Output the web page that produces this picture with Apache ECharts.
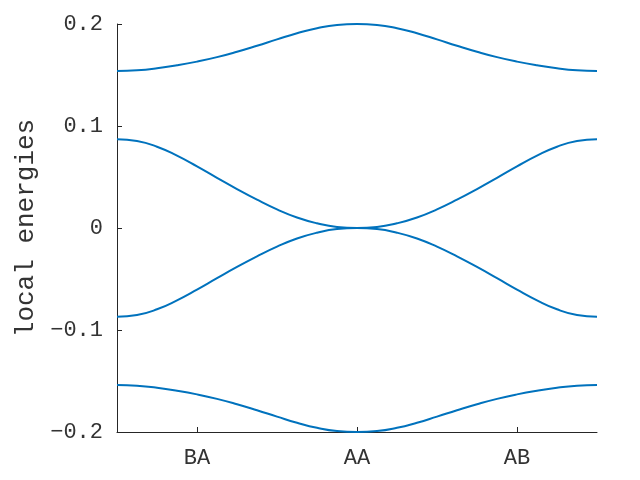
<!DOCTYPE html>
<html>
<head>
<meta charset="utf-8">
<script src="https://cdn.jsdelivr.net/npm/echarts@6/dist/echarts.min.js"></script>
<style>html,body{margin:0;padding:0;background:#fff}#c{width:640px;height:480px}</style>
</head>
<body>
<div id="c"></div>
<script>
var xPositions = [0,0.125,0.25,0.375,0.5,0.625,0.75,0.875,1,1.125,1.25,1.375,1.5,1.625,1.75,1.875,2,2.125,2.25,2.375,2.5,2.625,2.75,2.875,3];
var band1 = [0.1538,0.1546,0.1566,0.1595,0.1631,0.1675,0.1728,0.1787,0.1849,0.1909,0.1959,0.1991,0.2,0.1991,0.1959,0.1909,0.1849,0.1787,0.1728,0.1675,0.1631,0.1595,0.1566,0.1546,0.1538];
var band2 = [0.0870,0.0853,0.0797,0.0709,0.0604,0.0492,0.0382,0.0278,0.0183,0.0103,0.0046,0.0010,0,0.0010,0.0046,0.0103,0.0183,0.0278,0.0382,0.0492,0.0604,0.0709,0.0797,0.0853,0.0870];
var band3 = [-0.0870,-0.0853,-0.0797,-0.0709,-0.0604,-0.0492,-0.0382,-0.0278,-0.0183,-0.0103,-0.0046,-0.0010,0,-0.0010,-0.0046,-0.0103,-0.0183,-0.0278,-0.0382,-0.0492,-0.0604,-0.0709,-0.0797,-0.0853,-0.0870];
var band4 = [-0.1538,-0.1546,-0.1566,-0.1595,-0.1631,-0.1675,-0.1728,-0.1787,-0.1849,-0.1909,-0.1959,-0.1991,-0.2,-0.1991,-0.1959,-0.1909,-0.1849,-0.1787,-0.1728,-0.1675,-0.1631,-0.1595,-0.1566,-0.1546,-0.1538];
var xTickValues = [0.5,1.5,2.5];
var xTickLabels = ['BA','AA','AB'];
var yLabel = 'local energies';

function pairs(ys){ return xPositions.map(function(x,i){ return [x, ys[i]]; }); }
var font = 'Liberation Mono';
var txt = '#262626';
function mkSeries(ys){
  return {type:'line', data:pairs(ys), showSymbol:false, smooth:true, lineStyle:{color:'#0072BD', width:2}, itemStyle:{color:'#0072BD'}, animation:false};
}
var chart = echarts.init(document.getElementById('c'), null, {renderer:'canvas'});
chart.setOption({
  animation:false,
  grid:{left:117, right:43, top:24, bottom:48, containLabel:false},
  xAxis:{
    type:'value', min:0, max:3,
    axisLine:{show:true, onZero:false, lineStyle:{color:txt, width:1}},
    splitLine:{show:false},
    axisTick:{show:true, inside:true, length:5, lineStyle:{color:txt}, customValues:xTickValues},
    axisLabel:{customValues:xTickValues, margin:15, color:'#333', fontFamily:font, fontSize:22,
      formatter:function(v){ var i = xTickValues.indexOf(v); return i>=0 ? xTickLabels[i] : ''; }}
  },
  yAxis:{
    type:'value', min:-0.2, max:0.2, interval:0.1,
    name:yLabel, nameLocation:'middle', nameGap:78,
    nameTextStyle:{color:'#333', fontFamily:font, fontSize:26},
    axisLine:{show:true, onZero:false, lineStyle:{color:txt, width:1}},
    splitLine:{show:false},
    axisTick:{show:true, inside:true, length:5, lineStyle:{color:txt}},
    axisLabel:{margin:14, color:'#333', fontFamily:font, fontSize:22,
      formatter:function(v){ var r = Math.round(v*10)/10; if (r===0) return '0'; return (r<0?'\u2212':'') + Math.abs(r).toFixed(1); }}
  },
  series:[mkSeries(band1), mkSeries(band2), mkSeries(band3), mkSeries(band4)]
});
</script>
</body>
</html>
